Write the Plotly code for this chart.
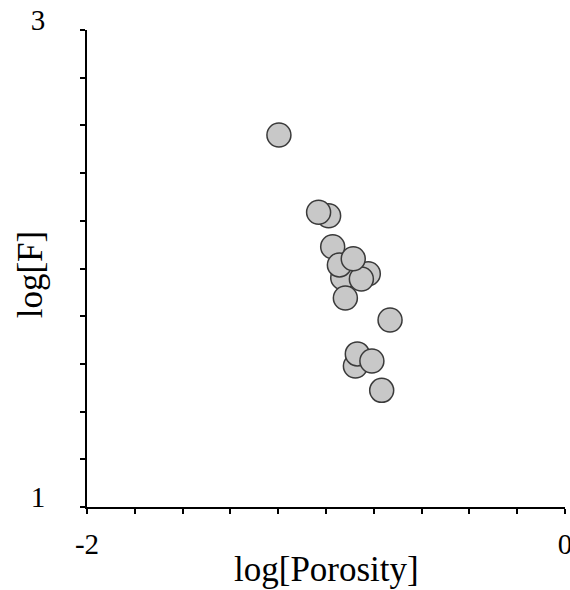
import plotly.graph_objects as go

# data (draw order)
log_porosity = [-1.197, -0.989, -1.031, -0.823, -0.930, -0.972, -0.944, -0.852, -0.886,
                -0.919, -0.732, -0.877, -0.869, -0.808, -0.767]
log_F = [2.560, 2.221, 2.236, 1.978, 1.961, 2.091, 2.015, 1.956, 2.041,
         1.876, 1.784, 1.591, 1.642, 1.612, 1.489]

x_tickvals = [-2, 0]
x_ticktext = ["-2", "0"]
y_tickvals = [1, 3]
y_ticktext = ["1", "3"]
x_title = "log[Porosity]"
y_title = "log[F]"

FONT = "Liberation Serif, Times New Roman, serif"

fig = go.Figure(go.Scatter(
    x=log_porosity, y=log_F, mode="markers",
    marker=dict(size=24, color="#c8c8c8", line=dict(color="#3a3a3a", width=1.5)),
    cliponaxis=False,
))

axis_common = dict(
    showgrid=False, zeroline=False, showline=True, linecolor="black", linewidth=2,
    ticks="outside", ticklen=5, tickwidth=2, tickcolor="black", automargin=False,
    ticklabeloverflow="allow",
    tickfont=dict(family=FONT, size=29, color="black"),
    minor=dict(dtick=0.2, ticks="outside", ticklen=5, tickwidth=2, tickcolor="black"),
)

fig.update_layout(
    width=570, height=590,
    margin=dict(l=87, r=5, t=30, b=83),
    plot_bgcolor="white", paper_bgcolor="white",
    showlegend=False,
    xaxis=dict(range=[-2, 0], tickvals=x_tickvals, ticktext=x_ticktext,
               ticklabelstandoff=5, **axis_common),
    yaxis=dict(range=[1, 3], tickvals=y_tickvals, ticktext=y_ticktext,
               ticklabelstandoff=29, ticklabelshift=-10, **axis_common),
    annotations=[
        dict(text=x_title, xref="paper", yref="paper", x=0.5, y=-0.131,
             xanchor="center", yanchor="middle", showarrow=False,
             font=dict(family=FONT, size=35, color="black")),
        dict(text=y_title, xref="paper", yref="paper", x=-0.119, y=0.488,
             xanchor="center", yanchor="middle", showarrow=False, textangle=-90,
             font=dict(family=FONT, size=35, color="black")),
    ],
)

# remove the browser's default 8px body margin so the figure fills the window
fig.write_html("out.html", config={"displayModeBar": False},
               post_script="document.body.style.margin='0';document.body.style.overflow='hidden';")
